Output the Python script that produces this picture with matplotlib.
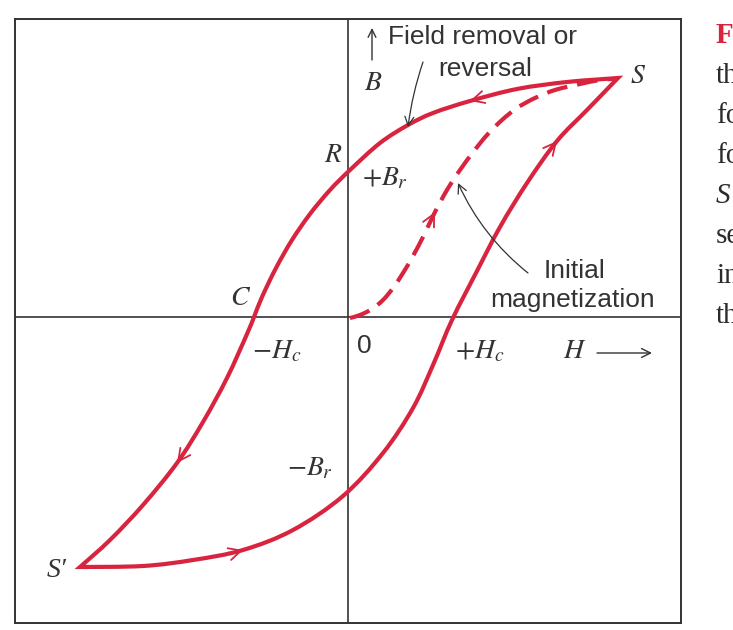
import numpy as np
import matplotlib.pyplot as plt
from matplotlib.path import Path
from matplotlib.patches import PathPatch

plt.rcParams['mathtext.fontset'] = 'stix'

# Hysteresis loop for a ferromagnet (H and B in arbitrary units)
# descending branch: S -> R -> C -> S'
h_down = [2.70, 2.19, 1.69, 1.22, 0.85, 0.60, 0.32, 0.02, -0.18, -0.38, -0.56,
          -0.72, -0.86, -0.94, -1.01, -1.21, -1.45, -1.71, -2.05, -2.38, -2.68]
b_down = [2.39, 2.35, 2.28, 2.16, 2.04, 1.92, 1.74, 1.47, 1.27, 1.03, 0.77,
          0.49, 0.20, 0.00, -0.17, -0.61, -1.05, -1.46, -1.88, -2.23, -2.50]
# ascending branch: S' -> -Br -> +Hc -> S
h_up = [-2.68, -2.05, -1.55, -1.05, -0.55, -0.05, 0.35, 0.65, 0.85, 1.04,
        1.29, 1.52, 1.79, 2.09, 2.39, 2.70]
b_up = [-2.50, -2.49, -2.43, -2.33, -2.13, -1.79, -1.36, -0.91, -0.48, -0.03,
        0.46, 0.90, 1.34, 1.76, 2.07, 2.39]
# initial magnetization curve from the origin
h_init = [0.02, 0.12, 0.24, 0.35, 0.45, 0.55, 0.65, 0.76, 0.87, 0.99, 1.12,
          1.26, 1.39, 1.54, 1.69, 1.87, 2.07, 2.32, 2.52, 2.65]
b_init = [-0.01, 0.02, 0.08, 0.17, 0.29, 0.44, 0.61, 0.82, 1.05, 1.27, 1.47,
          1.66, 1.82, 1.97, 2.09, 2.19, 2.27, 2.33, 2.37, 2.38]

caption = ['Figure', 'the', 'for', 'for', 'S', 'se', 'in', 'the']

red = '#d8243e'
ink = '#333333'


def smooth(xs, ys):
    # Catmull-Rom through the points, as cubic Bezier segments
    p = np.column_stack([xs, ys])
    q = np.vstack([p[0], p, p[-1]])
    verts = [p[0]]
    codes = [Path.MOVETO]
    for i in range(len(p) - 1):
        p0, p1, p2, p3 = q[i], q[i + 1], q[i + 2], q[i + 3]
        verts += [p1 + (p2 - p0) / 6, p2 - (p3 - p1) / 6, p2]
        codes += [Path.CURVE4] * 3
    return verts, codes


def mid_arrow(ax, xs, ys, i, color):
    # small open arrowhead sitting on the curve at point i
    d = np.array([xs[i + 1] - xs[i - 1], ys[i + 1] - ys[i - 1]])
    d = d / np.hypot(*d)
    head = np.array([xs[i], ys[i]])
    ax.annotate('', xy=head, xytext=head - 0.12 * d,
                arrowprops=dict(arrowstyle='->', color=color, lw=1.3,
                                mutation_scale=22, shrinkA=0, shrinkB=0))


fig = plt.figure(figsize=(7.33, 6.30), dpi=100)
ax = fig.add_axes([15 / 733, 7 / 630, 666 / 733, 604 / 630])
ax.set_xlim(-3.33, 3.33)
ax.set_ylim(-3.06, 2.98)
ax.set_xticks([])
ax.set_yticks([])
for s in ax.spines.values():
    s.set_color(ink)
    s.set_linewidth(1.4)
ax.axhline(0, color=ink, lw=1.2)
ax.axvline(0, color=ink, lw=1.2)

# closed hysteresis loop
vd, cd = smooth(h_down, b_down)
vu, cu = smooth(h_up, b_up)
verts = vd + vu[1:] + [vd[0]]
codes = cd + cu[1:] + [Path.CLOSEPOLY]
ax.add_patch(PathPatch(Path(verts, codes), fill=False, edgecolor=red, lw=3.0,
                       joinstyle='miter', zorder=3))

# dashed initial magnetization
vi, ci = smooth(h_init, b_init)
ax.add_patch(PathPatch(Path(vi, ci), fill=False, edgecolor=red, lw=3.0,
                       linestyle=(0, (5.0, 2.4)), capstyle='butt', zorder=3))

mid_arrow(ax, h_down, b_down, 3, red)
mid_arrow(ax, h_down, b_down, 17, red)
mid_arrow(ax, h_up, b_up, 3, red)
mid_arrow(ax, h_up, b_up, 13, red)
mid_arrow(ax, h_init, b_init, 8, red)

# axis arrows and pointers
ax.annotate('', xy=(0.24, 2.89), xytext=(0.24, 2.57),
            arrowprops=dict(arrowstyle='->', color=ink, lw=1.0,
                            mutation_scale=14, shrinkA=0, shrinkB=0))
ax.annotate('', xy=(3.04, -0.36), xytext=(2.49, -0.36),
            arrowprops=dict(arrowstyle='->', color=ink, lw=1.0,
                            mutation_scale=16, shrinkA=0, shrinkB=0))
ax.annotate('', xy=(0.60, 1.90), xytext=(0.75, 2.55),
            arrowprops=dict(arrowstyle='->', color=ink, lw=0.9,
                            mutation_scale=16, shrinkA=0, shrinkB=0,
                            connectionstyle='arc3,rad=0.05'))
ax.annotate('', xy=(1.10, 1.34), xytext=(1.80, 0.44),
            arrowprops=dict(arrowstyle='->', color=ink, lw=0.9,
                            mutation_scale=16, shrinkA=0, shrinkB=0,
                            connectionstyle='arc3,rad=-0.12'))

sans = dict(family='Liberation Sans', fontsize=19, color=ink, va='baseline')
ax.text(0.40, 2.73, 'Field removal or', ha='left', **sans)
ax.text(0.90, 2.41, 'reversal', ha='left', **sans)
ax.text(2.27, 0.39, 'Initial', ha='center', **sans)
ax.text(2.25, 0.10, 'magnetization', ha='center', **sans)

lab = dict(fontsize=20, color=ink, va='baseline')
ax.text(0.25, 2.27, '$B$', ha='center', **lab)
ax.text(2.90, 2.34, '$S$', ha='center', **lab)
ax.text(-0.15, 1.55, '$R$', ha='center', **lab)
ax.text(0.14, 1.32, '$+B_r$', ha='left', **lab)
ax.text(-1.07, 0.12, '$C$', ha='center', **lab)
ax.text(-0.96, -0.41, '$-H_c$', ha='left', **lab)
ax.text(0.16, -0.36, '0', ha='center', family='Liberation Sans', fontsize=19,
        color=ink, va='baseline')
ax.text(1.07, -0.41, '$+H_c$', ha='left', **lab)
ax.text(2.27, -0.41, '$H$', ha='center', **lab)
ax.text(-0.15, -1.58, '$-B_r$', ha='right', **lab)
ax.text(-2.91, -2.60, 'S\u2032', ha='center',
        family=['Liberation Serif', 'DejaVu Serif'],
        style='italic', fontsize=20, color=ink, va='baseline')

# start of the caption column beside the figure
for k, word in enumerate(caption):
    style = dict(color=red, weight='bold') if k == 0 else dict(color='#2b2b2b')
    if word == 'S':
        style['style'] = 'italic'
    fig.text(716 / 733, 1 - (43 + 40 * k) / 630, word, family='Liberation Serif',
             fontsize=21, va='baseline', ha='left', **style)

fig.savefig('out.png', dpi=100)
